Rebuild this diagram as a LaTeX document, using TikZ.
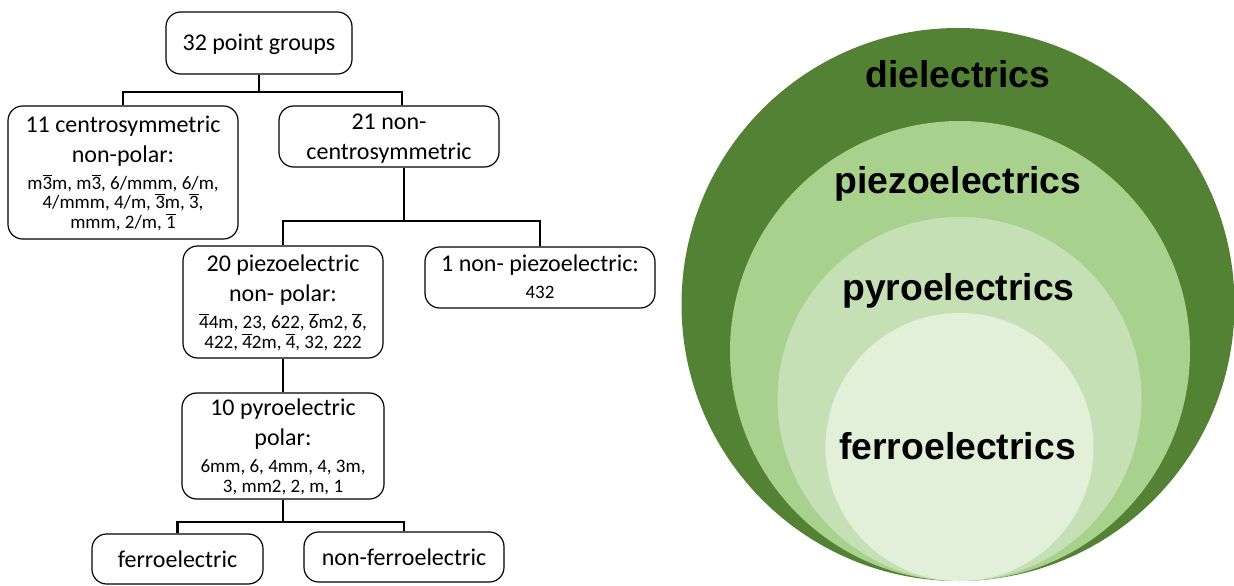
\documentclass[tikz,border=0pt]{standalone}
\usepackage{fontspec}
\setmainfont{Carlito}
\newfontfamily\circfont{Liberation Sans}
\definecolor{gA}{HTML}{548235}
\definecolor{gB}{HTML}{A9D18E}
\definecolor{gC}{HTML}{C5E0B4}
\definecolor{gD}{HTML}{E2F0D9}
\newcommand\ob[1]{$\overline{\mbox{#1}}$}
\newcommand\boxfont{\fontsize{18pt}{0pt}\selectfont\lineskiplimit=1000pt\relax\lineskip=0pt\relax}
\newcommand\smallfnt{\fontsize{14.25pt}{0pt}\selectfont}
\newcommand\La[1]{\rule[-7.5pt]{0pt}{22.5pt}#1}
\newcommand\Lz[1]{\rule[-2.25pt]{0pt}{17.25pt}#1}
\newcommand\Ls[1]{\rule[-3pt]{0pt}{18pt}#1}
\newcommand\Sf[1]{{\smallfnt\rule[-3.375pt]{0pt}{16.125pt}#1}}
\newcommand\Sm[1]{{\smallfnt\rule[-3.375pt]{0pt}{14.625pt}#1}}
\begin{document}
\begin{tikzpicture}[x=0.75pt,y=-0.75pt,
  box/.style={draw=black, line width=0.9pt, rounded corners=11pt, inner sep=0pt, align=center,
    font=\boxfont},
  link/.style={line width=1.6pt},
  clabel/.style={anchor=base, inner sep=0pt, font=\circfont\bfseries\fontsize{28}{34}\selectfont}]
\useasboundingbox (0,0) rectangle (1234,585);
\fill[white] (0,0) rectangle (1234,585);
% circles
\fill[gA] (958,304.5) circle[radius=276.5];
\fill[gB] (960,351) circle[radius=230];
\fill[gC] (959.5,399) circle[radius=182];
\fill[gD] (959.5,447) circle[radius=134];
\node[clabel] (t1) at (958,87.3) {dielectrics};
\node[clabel] (t2) at (958,193.3) {piezoelectrics};
\node[clabel] (t3) at (958.5,300) {pyroelectrics};
\node[clabel] (t4) at (957.5,459) {ferroelectrics};
% tree
\node[box, minimum width=139.5pt, minimum height=46.5pt] (A) at (259,43) {\Ls{32 point groups}};
\node[box, minimum width=172.5pt, minimum height=99.75pt] (B) at (123,172.5)
  {\La{11 centrosymmetric}\\\La{non-polar:}\\\Sf{m\ob{3}m, m\ob{3}, 6/mmm, 6/m,}\\\Sm{4/mmm, 4/m, \ob{3}m, \ob{3},}\\\Sm{mmm, 2/m, \ob{1}}};
\node[box, minimum width=165pt, minimum height=45.75pt] (C) at (389,136.5)
  {\La{21 non-}\\\Lz{centrosymmetric}};
\node[box, minimum width=150pt, minimum height=84pt] (D) at (283,302)
  {\La{20 piezoelectric}\\\La{non- polar:}\\\Sf{\ob{4}4m, 23, 622, \ob{6}m2, \ob{6},}\\\Sm{422, \ob{4}2m, \ob{4}, 32, 222}};
\node[box, minimum width=172.5pt, minimum height=45.75pt] (E) at (540,277.5)
  {\La{1 non- piezoelectric:}\\\Sf{432}};
\node[box, minimum width=151.5pt, minimum height=79.5pt] (F) at (283,446)
  {\La{10 pyroelectric}\\\La{polar:}\\\Sf{6mm, 6, 4mm, 4, 3m,}\\\Sm{3, mm2, 2, m, 1}};
\node[box, minimum width=128.25pt, minimum height=37.5pt] (G) at (177.5,559) {\Ls{ferroelectric}};
\node[box, minimum width=150pt, minimum height=37.5pt] (H) at (404,557) {\Ls{non-ferroelectric}};
% connectors
\coordinate (j1) at (259,92);
\coordinate (j2) at (404,221);
\coordinate (j3) at (283,522);
\draw[link] (A.south) -- (j1);
\draw[link] (B.north) |- (j1);
\draw[link] ([xshift=9.75pt]C.north) |- (j1);
\draw[link] ([xshift=11.25pt]C.south) -- (j2);
\draw[link] (D.north) |- (j2);
\draw[link] (E.north) |- (j2);
\draw[link] (D.south) -- (F.north);
\draw[link] (F.south) -- (j3);
\draw[link] (G.north) |- (j3);
\draw[link] (H.north) |- (j3);
\end{tikzpicture}
\end{document}
